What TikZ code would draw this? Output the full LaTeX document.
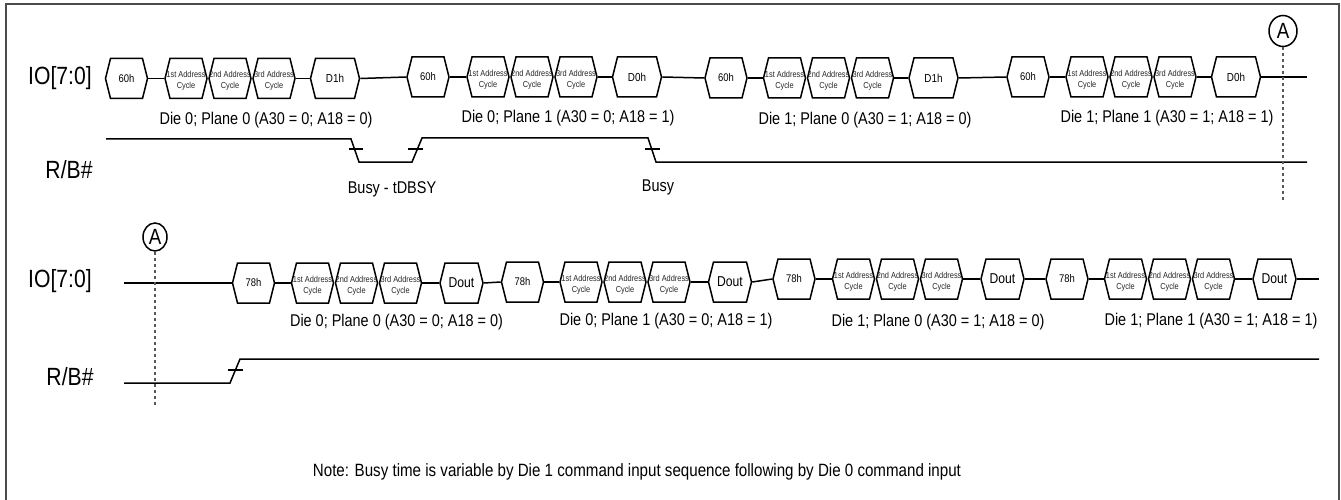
\documentclass[tikz,border=0pt]{standalone}
\usepackage{fontspec}
\setmainfont[FakeStretch=0.85]{Liberation Sans}
\usetikzlibrary{shapes.symbols,shapes.geometric}

\begin{document}
\begin{tikzpicture}[x=1pt, y=-1pt, node distance=44pt]
    \tikzstyle{hexbox} = [signal, signal to=east and west, signal pointer angle=152, draw, line width=1.5pt, inner sep=0pt, minimum height=40pt, align=center]
    \tikzstyle{cmd} = [hexbox, minimum width=42pt, font=\fontsize{11.1}{12}\selectfont]
    \tikzstyle{addr} = [hexbox, minimum width=42pt, text=black!85, font=\fontsize{8.7}{11}\selectfont]
    \tikzstyle{data} = [hexbox, minimum width=49pt, font=\fontsize{11.6}{13}\selectfont]
    \tikzstyle{dout} = [hexbox, minimum width=43pt, font=\fontsize{14.3}{15}\selectfont]
    \tikzstyle{wave} = [line width=1.5pt]
    \tikzstyle{marker} = [draw, ellipse, line width=1.5pt, inner sep=0pt, font=\fontsize{22}{23}\selectfont]
    \tikzstyle{guide} = [dashed, line width=1.2pt, black!65]
    \tikzstyle{signame} = [font=\fontsize{24.9}{26}\selectfont]
    \tikzstyle{caption} = [font=\fontsize{17}{18}\selectfont]
    \tikzstyle{notetext} = [font=\fontsize{17.8}{18}\selectfont]

    \useasboundingbox (0,0) rectangle (1341,500);
    \draw [line width=2pt, black!70] (6,500) -- (6,4) -- (1339,4) -- (1339,500);

    % Signal names
    \node [signame] (ioa) at (60,78) {IO[7:0]};
    \node [signame] (rba) at (69,170) {R/B\#};
    \node [signame] (iob) at (60,281) {IO[7:0]};
    \node [signame] (rbb) at (70,377) {R/B\#};

    % Top row, Die 0 Plane 0
    \node [cmd] (ta) at (126.5,78.5) {60h};
    \node [addr, right of=ta, node distance=59.5pt] (taa) {\mbox{}\\\clap{1st Address}\\\clap{Cycle}};
    \node [addr, right of=taa] (tab) {\mbox{}\\\clap{2nd Address}\\\clap{Cycle}};
    \node [addr, right of=tab] (tac) {\mbox{}\\\clap{3rd Address}\\\clap{Cycle}};
    \node [data, right of=tac, node distance=61pt] (tad) {D1h};
    \node [caption] (tal) at (266,120) {Die 0; Plane 0 (A30 = 0; A18 = 0)};

    % Top row, Die 0 Plane 1
    \node [cmd] (tb) at (428,77) {60h};
    \node [addr, right of=tb, node distance=60pt] (tba) {\mbox{}\\\clap{1st Address}\\\clap{Cycle}};
    \node [addr, right of=tba] (tbb) {\mbox{}\\\clap{2nd Address}\\\clap{Cycle}};
    \node [addr, right of=tbb] (tbc) {\mbox{}\\\clap{3rd Address}\\\clap{Cycle}};
    \node [data, right of=tbc, node distance=61pt] (tbd) {D0h};
    \node [caption] (tbl) at (568,118) {Die 0; Plane 1 (A30 = 0; A18 = 1)};

    % Top row, Die 1 Plane 0
    \node [cmd] (tc) at (726,78) {60h};
    \node [addr, right of=tc, node distance=58.5pt] (tca) {\mbox{}\\\clap{1st Address}\\\clap{Cycle}};
    \node [addr, right of=tca] (tcb) {\mbox{}\\\clap{2nd Address}\\\clap{Cycle}};
    \node [addr, right of=tcb] (tcc) {\mbox{}\\\clap{3rd Address}\\\clap{Cycle}};
    \node [data, right of=tcc, node distance=61pt] (tcd) {D1h};
    \node [caption] (tcl) at (865,120) {Die 1; Plane 0 (A30 = 1; A18 = 0)};

    % Top row, Die 1 Plane 1
    \node [cmd] (td) at (1028,77) {60h};
    \node [addr, right of=td, node distance=59pt] (tda) {\mbox{}\\\clap{1st Address}\\\clap{Cycle}};
    \node [addr, right of=tda] (tdb) {\mbox{}\\\clap{2nd Address}\\\clap{Cycle}};
    \node [addr, right of=tdb] (tdc) {\mbox{}\\\clap{3rd Address}\\\clap{Cycle}};
    \node [data, right of=tdc, node distance=61pt] (tdd) {D0h};
    \node [caption] (tdl) at (1167,118) {Die 1; Plane 1 (A30 = 1; A18 = 1)};
    \coordinate (tend) at (1307,77);

    % Bottom row, Die 0 Plane 0
    \coordinate (bstart) at (124,283);
    \node [cmd] (ba) at (253.5,283) {78h};
    \node [addr, right of=ba, node distance=59pt] (baa) {\mbox{}\\\clap{1st Address}\\\clap{Cycle}};
    \node [addr, right of=baa] (bab) {\mbox{}\\\clap{2nd Address}\\\clap{Cycle}};
    \node [addr, right of=bab] (bac) {\mbox{}\\\clap{3rd Address}\\\clap{Cycle}};
    \node [dout, right of=bac, node distance=61pt] (bad) {Dout};
    \node [caption] (bal) at (396.5,322) {Die 0; Plane 0 (A30 = 0; A18 = 0)};

    % Bottom row, Die 0 Plane 1
    \node [cmd] (bb) at (522.5,282) {78h};
    \node [addr, right of=bb, node distance=58.5pt] (bba) {\mbox{}\\\clap{1st Address}\\\clap{Cycle}};
    \node [addr, right of=bba] (bbb) {\mbox{}\\\clap{2nd Address}\\\clap{Cycle}};
    \node [addr, right of=bbb] (bbc) {\mbox{}\\\clap{3rd Address}\\\clap{Cycle}};
    \node [dout, right of=bbc, node distance=61pt] (bbd) {Dout};
    \node [caption] (bbl) at (666,321) {Die 0; Plane 1 (A30 = 0; A18 = 1)};

    % Bottom row, Die 1 Plane 0
    \node [cmd] (bc) at (794,279) {78h};
    \node [addr, right of=bc, node distance=59.5pt] (bca) {\mbox{}\\\clap{1st Address}\\\clap{Cycle}};
    \node [addr, right of=bca] (bcb) {\mbox{}\\\clap{2nd Address}\\\clap{Cycle}};
    \node [addr, right of=bcb] (bcc) {\mbox{}\\\clap{3rd Address}\\\clap{Cycle}};
    \node [dout, right of=bcc, node distance=61pt] (bcd) {Dout};
    \node [caption] (bcl) at (938,322) {Die 1; Plane 0 (A30 = 1; A18 = 0)};

    % Bottom row, Die 1 Plane 1
    \node [cmd] (bd) at (1067,279) {78h};
    \node [addr, right of=bd, node distance=58.5pt] (bda) {\mbox{}\\\clap{1st Address}\\\clap{Cycle}};
    \node [addr, right of=bda] (bdb) {\mbox{}\\\clap{2nd Address}\\\clap{Cycle}};
    \node [addr, right of=bdb] (bdc) {\mbox{}\\\clap{3rd Address}\\\clap{Cycle}};
    \node [dout, right of=bdc, node distance=61pt] (bdd) {Dout};
    \node [caption] (bdl) at (1211,321) {Die 1; Plane 1 (A30 = 1; A18 = 1)};
    \coordinate (bend) at (1319,279);

    % Connectors, top row
    \draw [wave] (ta.east) -- (taa.west);
    \draw [wave] (tac.east) -- (tad.west);
    \draw [wave] (tad.east) -- (tb.west);
    \draw [wave] (tb.east) -- (tba.west);
    \draw [wave] (tbc.east) -- (tbd.west);
    \draw [wave] (tbd.east) -- (tc.west);
    \draw [wave] (tc.east) -- (tca.west);
    \draw [wave] (tcc.east) -- (tcd.west);
    \draw [wave] (tcd.east) -- (td.west);
    \draw [wave] (td.east) -- (tda.west);
    \draw [wave] (tdc.east) -- (tdd.west);
    \draw [wave] (tdd.east) -- (tend);

    % Connectors, bottom row
    \draw [wave] (bstart) -- (ba.west);
    \draw [wave] (ba.east) -- (baa.west);
    \draw [wave] (bac.east) -- (bad.west);
    \draw [wave] (bad.east) -- (bb.west);
    \draw [wave] (bb.east) -- (bba.west);
    \draw [wave] (bbc.east) -- (bbd.west);
    \draw [wave] (bbd.east) -- (bc.west);
    \draw [wave] (bc.east) -- (bca.west);
    \draw [wave] (bcc.east) -- (bcd.west);
    \draw [wave] (bcd.east) -- (bd.west);
    \draw [wave] (bd.east) -- (bda.west);
    \draw [wave] (bdc.east) -- (bdd.west);
    \draw [wave] (bdd.east) -- (bend);

    % R/B# waveforms
    \draw [wave] (106,139) -- (351,139) -- (359,162) -- (412,162) -- (422,138) -- (648,138) -- (656,162) -- (1307,162);
    \draw [wave] (349,149) -- (363,149);
    \draw [wave] (408,149) -- (423,149);
    \draw [wave] (645,149) -- (660,149);
    \draw [wave] (124,383) -- (230,383) -- (240,359) -- (1319,359);
    \draw [wave] (228,370) -- (243,370);
    \node [caption] (busya) at (392,189) {Busy - tDBSY};
    \node [caption] (busyb) at (658,187) {Busy};

    % Page markers
    \node [marker, minimum width=28pt, minimum height=31pt] (marka) at (1283,31) {A};
    \node [marker, minimum width=24pt, minimum height=28pt] (markb) at (155,237) {A};
    \coordinate (marka end) at (1283,203);
    \coordinate (markb end) at (155,407);
    \draw [guide] (marka) -- (marka end);
    \draw [guide] (markb) -- (markb end);

    \node [notetext] (note) at (637,472) {Note: Busy time is variable by Die 1 command input sequence following by Die 0 command input};
\end{tikzpicture}
\end{document}
